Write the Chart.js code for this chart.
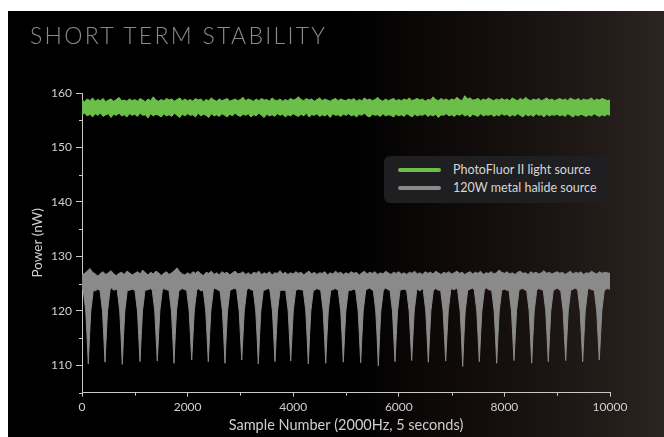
<!DOCTYPE html>
<html>
<head>
<meta charset="utf-8">
<script src="https://cdn.jsdelivr.net/npm/chart.js@4.4.1/dist/chart.umd.min.js"></script>
<style>
  html, body { margin: 0; padding: 0; background: #fff; }
  #panel {
    position: absolute; left: 8px; top: 11px; width: 656px; height: 426px; overflow: hidden;
    background: linear-gradient(to right, #000 0%, #000 52%, #0c0807 64%, #181210 80%, #2b2421 100%);
  }
  #titulo {
    position: absolute; left: 22px; top: 13px; font-family: Lato, sans-serif; font-weight: 300;
    font-size: 23px; line-height: 23px; letter-spacing: 2.3px; color: #8a8a8a; white-space: nowrap;
  }
  #grafica { position: absolute; left: 0; top: 0; }
  #leyenda {
    position: absolute; left: 376px; top: 145px; width: 224px; height: 47px;
    background: #1f1f21; border-radius: 6px; font-family: Lato, sans-serif; font-size: 12.5px; color: #d6d6d6;
  }
  .fila { position: absolute; left: 0; height: 16px; width: 224px; }
  .muestra { position: absolute; left: 14px; top: 6px; width: 43px; height: 4px; border-radius: 2px; }
  .texto { position: absolute; left: 69px; top: 0; line-height: 16px; white-space: nowrap; }
</style>
</head>
<body>
<div id="panel">
  <canvas id="grafica" width="656" height="426"></canvas>
  <div id="titulo">SHORT TERM STABILITY</div>
  <div id="leyenda"></div>
</div>
<script>
// muestras cada 50 (0..10000)
const paso = 50;

const series = ['PhotoFluor II light source', '120W metal halide source'];
const colores = ['#6bbf48', '#8a8a8a'];

// PhotoFluor: borde superior e inferior de la banda (nW)
const verdeAlto = [
  158.7, 158.4, 158.9, 158.6, 159.1, 158.5, 158.8, 158.6, 159.0, 158.4, 158.7, 158.9, 158.5, 158.8, 159.2, 158.6, 158.7, 158.5, 158.9, 158.6,
  158.8, 158.5, 159.0, 158.7, 158.4, 158.9, 158.6, 159.3, 158.7, 158.5, 158.8, 158.6, 159.0, 158.7, 158.9, 158.5, 158.8, 159.1, 158.6, 158.9,
  158.6, 158.8, 158.5, 159.0, 158.7, 158.9, 158.4, 158.8, 158.6, 159.1, 158.7, 158.5, 158.9, 158.6, 158.8, 159.0, 158.5, 158.7, 158.9, 158.6,
  158.8, 159.2, 158.6, 158.9, 158.7, 158.5, 158.9, 158.6, 159.0, 158.7, 158.8, 158.5, 159.1, 158.7, 158.6, 158.9, 158.5, 158.8, 158.6, 159.0,
  158.7, 158.9, 159.3, 158.8, 158.6, 159.0, 158.7, 158.9, 158.5, 158.8, 159.1, 158.6, 158.9, 158.7, 158.5, 158.8, 159.0, 158.6, 158.9, 158.7,
  158.6, 158.9, 158.7, 159.0, 158.5, 158.8, 158.6, 159.1, 158.7, 158.9, 158.6, 158.8, 159.2, 158.7, 158.5, 158.9, 158.6, 158.8, 159.0, 158.6,
  158.8, 158.6, 158.9, 158.7, 159.1, 158.6, 158.8, 159.0, 158.7, 158.9, 158.5, 158.8, 158.7, 159.3, 158.8, 158.6, 159.0, 158.7, 158.9, 158.6,
  158.9, 158.7, 159.2, 158.8, 158.6, 159.5, 158.9, 159.1, 158.7, 158.8, 159.0, 158.6, 158.9, 158.7, 159.1, 158.8, 158.6, 158.9, 158.7, 159.0,
  158.7, 158.9, 158.6, 159.1, 158.8, 158.6, 159.0, 158.7, 159.2, 158.8, 158.6, 158.9, 158.7, 159.0, 158.6, 158.8, 159.1, 158.7, 158.9, 158.6,
  158.8, 159.0, 158.7, 158.9, 158.6, 159.1, 158.8, 158.7, 159.0, 158.6, 158.9, 158.7, 158.8, 159.1, 158.6, 158.9, 158.7, 159.0, 158.8, 158.6,
  158.7
];
const verdeBajo = [
  156.0, 156.3, 155.8, 156.1, 155.6, 156.2, 155.9, 156.3, 155.7, 156.0, 156.2, 155.5, 156.1, 155.9, 156.3, 155.8, 156.0, 155.6, 156.2, 155.9,
  156.1, 155.7, 156.3, 155.9, 156.0, 155.4, 156.2, 155.8, 156.1, 155.9, 155.6, 156.2, 155.8, 156.0, 155.7, 156.3, 155.9, 155.5, 156.1, 155.8,
  156.2, 155.9, 156.0, 155.6, 156.3, 155.8, 156.1, 155.9, 155.5, 156.2, 155.8, 156.0, 155.7, 156.2, 155.9, 155.6, 156.1, 155.8, 156.3, 155.9,
  155.7, 156.1, 155.9, 156.2, 155.6, 156.0, 155.8, 156.3, 155.9, 155.5, 156.1, 155.8, 156.0, 155.7, 156.2, 155.9, 156.1, 155.6, 156.0, 155.8,
  156.2, 155.9, 155.7, 156.1, 155.8, 156.3, 155.6, 156.0, 155.9, 156.2, 155.7, 156.0, 155.8, 156.1, 155.5, 156.2, 155.9, 156.0, 155.7, 156.1,
  155.9, 156.2, 155.8, 156.0, 155.6, 156.1, 155.9, 156.3, 155.8, 155.6, 156.1, 155.9, 156.0, 155.7, 156.2, 155.8, 156.0, 155.9, 155.6, 156.1,
  155.8, 156.0, 155.7, 156.2, 155.9, 155.6, 156.1, 155.8, 156.0, 155.9, 156.2, 155.7, 156.0, 155.8, 156.1, 155.5, 156.0, 155.9, 156.2, 155.8,
  156.0, 155.7, 156.1, 155.9, 156.2, 155.8, 156.0, 155.6, 156.1, 155.9, 155.7, 156.2, 155.8, 156.0, 155.9, 156.1, 155.7, 156.0, 155.8, 156.2,
  155.9, 156.1, 155.7, 156.0, 155.8, 156.2, 155.9, 155.6, 156.1, 155.8, 156.0, 155.7, 156.2, 155.9, 156.0, 155.6, 156.1, 155.8, 156.0, 155.9,
  156.1, 155.8, 156.0, 155.7, 156.2, 155.9, 155.6, 156.0, 155.8, 156.1, 155.9, 155.7, 156.0, 155.8, 156.2, 155.9, 155.7, 156.0, 155.8, 156.1,
  155.9
];

// halogenuro metálico: borde superior e inferior (sin las caídas)
const grisAlto = [
  126.6, 126.9, 127.3, 127.8, 127.1, 126.8, 126.4, 126.9, 127.2, 126.7, 127.0, 127.4, 126.8, 126.5, 126.9, 127.1, 126.7, 127.3, 127.0, 126.6,
  126.9, 127.2, 126.8, 127.5, 127.0, 126.6, 127.1, 126.8, 127.3, 127.0, 126.5, 126.9, 127.2, 126.7, 127.0, 127.4, 127.9, 127.2, 126.8, 126.6,
  127.0, 126.7, 127.2, 126.9, 127.3, 126.8, 126.5, 127.1, 126.9, 127.3, 126.7, 127.0, 126.6, 127.2, 126.9, 127.1, 126.6, 127.0, 127.3, 126.8,
  126.9, 127.2, 126.7, 127.0, 126.6, 127.1, 126.9, 127.3, 126.7, 127.0, 126.8, 127.2, 126.6, 127.0, 126.9, 127.4, 126.8, 127.1, 126.7, 127.0,
  126.8, 127.2, 126.9, 127.1, 126.6, 127.0, 127.3, 126.8, 127.1, 126.7, 127.0, 126.9, 127.2, 126.6, 127.0, 126.8, 127.3, 126.9, 127.1, 126.7,
  127.0, 126.8, 127.2, 126.9, 127.1, 126.6, 127.0, 127.3, 126.8, 127.1, 126.9, 127.2, 126.7, 127.0, 126.8, 127.3, 127.0, 126.7, 127.1, 126.9,
  127.2, 126.8, 127.0, 126.7, 127.1, 126.9, 127.3, 126.8, 127.0, 126.7, 127.2, 126.9, 127.1, 126.8, 127.3, 127.0, 126.7, 127.1, 126.9, 127.2,
  126.8, 127.0, 127.3, 126.9, 127.1, 126.7, 127.0, 127.2, 126.8, 127.1, 126.9, 127.3, 126.7, 127.0, 126.9, 127.2, 126.8, 127.0, 127.5, 127.1,
  126.9, 127.2, 126.8, 127.0, 126.7, 127.1, 127.3, 126.9, 127.0, 126.7, 127.2, 126.9, 127.1, 126.8, 127.0, 127.4, 126.9, 127.1, 126.8, 127.0,
  127.2, 126.9, 127.1, 126.7, 127.0, 127.3, 126.8, 127.1, 126.9, 127.2, 126.7, 127.0, 126.9, 127.3, 127.0, 126.8, 127.2, 126.9, 127.1, 127.0,
  126.9
];
const grisBajo = [
  124.1, 123.8, 124.2, 123.9, 124.3, 123.7, 124.0, 124.2, 123.8, 124.1, 123.9, 124.3, 123.8, 124.0, 123.6, 124.2, 123.9, 124.1, 123.8, 124.0,
  124.2, 123.9, 124.0, 123.7, 124.3, 123.9, 124.1, 123.8, 124.2, 124.0, 123.7, 124.1, 123.9, 124.3, 123.8, 124.0, 124.2, 123.8, 124.1, 123.9,
  124.0, 123.8, 124.3, 123.9, 124.1, 123.7, 124.2, 123.9, 124.0, 123.8, 124.2, 124.0, 123.7, 124.1, 123.9, 124.3, 123.8, 124.0, 124.2, 123.9,
  124.1, 123.8, 124.0, 124.2, 123.9, 123.7, 124.1, 123.9, 124.3, 123.8, 124.0, 124.2, 123.9, 124.1, 123.7, 124.0, 123.8, 124.2, 124.0, 123.9,
  124.2, 123.8, 124.0, 123.9, 124.1, 123.7, 124.2, 124.0, 123.8, 124.1, 123.9, 124.3, 123.8, 124.0, 124.2, 123.9, 124.1, 123.7, 124.0, 124.2,
  123.9, 124.1, 123.8, 124.0, 124.2, 123.9, 124.1, 123.7, 124.0, 124.2, 123.8, 124.1, 123.9, 124.0, 123.7, 124.2, 123.9, 124.1, 123.8, 124.0,
  124.2, 123.9, 124.0, 123.8, 124.1, 124.3, 123.9, 124.0, 123.7, 124.1, 123.9, 124.2, 123.8, 124.0, 124.1, 123.8, 124.2, 123.9, 124.0, 123.7,
  124.1, 123.9, 124.2, 123.8, 124.0, 124.1, 123.7, 124.0, 124.2, 123.9, 124.1, 123.8, 124.0, 124.3, 123.9, 124.1, 123.8, 124.0, 124.2, 123.9,
  124.0, 123.8, 124.1, 123.9, 124.2, 123.7, 124.0, 124.1, 123.8, 124.2, 123.9, 124.0, 123.7, 124.1, 123.9, 124.2, 123.8, 124.0, 124.1, 123.9,
  124.2, 123.8, 124.0, 123.9, 124.1, 123.7, 124.0, 124.2, 123.9, 124.1, 123.8, 124.0, 124.2, 123.9, 124.1, 123.8, 124.0, 124.3, 123.9, 124.1,
  124.0
];

// caídas periódicas de la lámpara: muestra central y valor mínimo
const caidaMuestra = [119, 436, 763, 1098, 1426, 1742, 2078, 2392, 2708, 3025, 3339, 3655, 3953, 4286, 4616, 4949,
  5278, 5612, 5928, 6244, 6559, 6888, 7210, 7525, 7854, 8182, 8517, 8831, 9161, 9483, 9797];
const caidaFondo = [110.3, 110.6, 110.2, 110.7, 110.8, 110.4, 111.0, 110.7, 110.4, 111.0, 110.3, 110.7, 110.8, 110.3, 110.4, 110.6,
  110.5, 109.9, 110.7, 110.9, 110.6, 110.8, 109.8, 110.7, 110.4, 110.9, 110.4, 110.7, 110.9, 110.7, 111.0];
// forma de la caída: semiancho (muestras) y nivel a esa distancia
const anchoCaida = [95, 48, 24];
const nivelCaida = [123.8, 120.0, 115.5];

function puntos(valores) {
  return valores.map((y, i) => ({ x: i * paso, y: y }));
}

function conCaidas(valores) {
  const lista = puntos(valores).filter(p => !caidaMuestra.some(c => Math.abs(p.x - c) < anchoCaida[0] + 10));
  caidaMuestra.forEach((c, k) => {
    for (let j = 0; j < anchoCaida.length; j++) lista.push({ x: c - anchoCaida[j], y: nivelCaida[j] });
    lista.push({ x: c, y: caidaFondo[k] });
    for (let j = anchoCaida.length - 1; j >= 0; j--) lista.push({ x: c + anchoCaida[j], y: nivelCaida[j] });
  });
  return lista.sort((a, b) => a.x - b.x);
}

const marcasMenores = {
  id: 'marcasMenores',
  afterDraw(chart) {
    const { ctx, chartArea, scales } = chart;
    ctx.save();
    ctx.strokeStyle = '#c8c8c8';
    ctx.lineWidth = 1;
    ctx.beginPath();
    scales.y.ticks.forEach(t => {
      if (t.value % 10 !== 0) {
        const y = Math.round(scales.y.getPixelForValue(t.value)) + 0.5;
        ctx.moveTo(chartArea.left - 3, y);
        ctx.lineTo(chartArea.left, y);
      }
    });
    scales.x.ticks.forEach(t => {
      if (t.value % 2000 !== 0) {
        const x = Math.round(scales.x.getPixelForValue(t.value)) + 0.5;
        ctx.moveTo(x, chartArea.bottom);
        ctx.lineTo(x, chartArea.bottom + 3);
      }
    });
    ctx.stroke();
    ctx.restore();
  }
};

const fuente = { family: 'Lato, sans-serif', size: 12 };
const ejeColor = '#c8c8c8';

new Chart(document.getElementById('grafica'), {
  type: 'line',
  data: {
    datasets: [
      { label: series[0], data: puntos(verdeBajo), borderColor: colores[0], borderWidth: 1, fill: false },
      { label: series[0], data: puntos(verdeAlto), borderColor: colores[0], borderWidth: 1, backgroundColor: colores[0], fill: '-1' },
      { label: series[1], data: conCaidas(grisBajo), borderColor: colores[1], borderWidth: 1, fill: false },
      { label: series[1], data: puntos(grisAlto), borderColor: colores[1], borderWidth: 1, backgroundColor: colores[1], fill: '-1' }
    ]
  },
  options: {
    responsive: false,
    animation: false,
    events: [],
    devicePixelRatio: 1,
    elements: { point: { radius: 0 }, line: { tension: 0 } },
    layout: { padding: { top: 82, right: 54, left: 0, bottom: 0 } },
    plugins: { legend: { display: false }, tooltip: { enabled: false } },
    scales: {
      x: {
        type: 'linear', min: 0, max: 10000,
        ticks: {
          stepSize: 1000, autoSkip: false, maxRotation: 0, color: '#cfcfcf', font: fuente, padding: 3,
          callback: v => (v % 2000 === 0 ? String(v) : '')
        },
        grid: {
          drawOnChartArea: false, tickLength: 4,
          tickColor: c => (c.tick && c.tick.value % 2000 === 0 ? ejeColor : 'transparent')
        },
        border: { color: ejeColor, width: 1 },
        title: {
          display: true, text: 'Sample Number (2000Hz, 5 seconds)', color: '#cfcfcf',
          font: { family: 'Lato, sans-serif', size: 14.5 }, padding: { top: 0, bottom: 3 }
        },
        afterFit: s => { s.height = 44.3; }
      },
      y: {
        min: 105, max: 160,
        ticks: {
          stepSize: 5, autoSkip: false, color: '#cfcfcf', font: fuente, padding: 4,
          callback: v => (v % 10 === 0 ? String(v) : '')
        },
        grid: {
          drawOnChartArea: false, tickLength: 6,
          tickColor: c => (c.tick && c.tick.value % 10 === 0 ? ejeColor : 'transparent')
        },
        border: { color: ejeColor, width: 1 },
        title: {
          display: true, text: 'Power (nW)', color: '#cfcfcf',
          font: { family: 'Lato, sans-serif', size: 13.5 }, padding: { top: 22, bottom: 0 }
        },
        afterFit: s => { s.width = 74; }
      }
    }
  },
  plugins: [marcasMenores]
});

// leyenda en HTML
const leyenda = document.getElementById('leyenda');
series.forEach((nombre, i) => {
  const fila = document.createElement('div');
  fila.className = 'fila';
  fila.style.top = (6 + i * 18) + 'px';
  fila.innerHTML = '<div class="muestra" style="background:' + colores[i] + '"></div><div class="texto">' + nombre + '</div>';
  leyenda.appendChild(fila);
});
</script>
</body>
</html>
